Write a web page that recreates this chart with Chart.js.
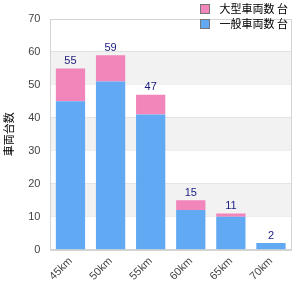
<!DOCTYPE html>
<html>
<head>
<meta charset="utf-8">
<script src="https://cdn.jsdelivr.net/npm/chart.js@4.4.1/dist/chart.umd.min.js"></script>
<style>
  html, body { margin: 0; padding: 0; background: #fff; }
  #wrap { position: relative; width: 300px; height: 300px; }
  #legend { position: absolute; right: 12px; top: 1px; font: 11px "Noto Sans CJK JP", sans-serif; color: #000; }
  #legend div { height: 15px; line-height: 15px; white-space: nowrap; }
  #legend span.box { display: inline-block; width: 8px; height: 8px; border: 1px solid #777; margin-right: 10px; vertical-align: -1px; }
</style>
</head>
<body>
<div id="wrap">
  <canvas id="c" width="300" height="300"></canvas>
  <div id="legend"></div>
</div>
<script>
  var categories = ["45km", "50km", "55km", "60km", "65km", "70km"];
  var lowerValues = [45, 51, 41, 12, 10, 2];
  var upperValues = [10, 8, 6, 3, 1, 0];
  var lowerLabel = "一般車両数 台";
  var upperLabel = "大型車両数 台";
  var yTitle = "車両台数";
  var yTicks = [0, 10, 20, 30, 40, 50, 60, 70];

  var totals = categories.map(function(_, i) { return lowerValues[i] + upperValues[i]; });

  // 交互の背景帯
  var bandPlugin = {
    id: "bands",
    beforeDatasetsDraw: function(chart) {
      var ctx = chart.ctx, area = chart.chartArea, y = chart.scales.y;
      ctx.save();
      ctx.fillStyle = "#f2f2f2";
      for (var v = 10; v < 70; v += 20) {
        var top = y.getPixelForValue(v + 10), bot = y.getPixelForValue(v);
        ctx.fillRect(area.left, top, area.right - area.left, bot - top);
      }
      ctx.restore();
    }
  };

  // 枠線 + 合計ラベル
  var totalPlugin = {
    id: "totals",
    afterDatasetsDraw: function(chart) {
      var ctx = chart.ctx, y = chart.scales.y, x = chart.scales.x, a = chart.chartArea;
      ctx.save();
      ctx.strokeStyle = "#d4d4d4";
      ctx.lineWidth = 1;
      ctx.strokeRect(Math.round(a.left) + 0.5, Math.round(a.top) + 0.5, Math.round(a.right - a.left), Math.round(a.bottom - a.top));
      ctx.font = "11px Arial, 'Liberation Sans', sans-serif";
      ctx.fillStyle = "#1a1a80";
      ctx.textAlign = "center";
      ctx.textBaseline = "bottom";
      totals.forEach(function(t, i) {
        ctx.fillText(String(t), x.getPixelForValue(i), y.getPixelForValue(t) - 2);
      });
      ctx.restore();
    }
  };

  var chart = new Chart(document.getElementById("c"), {
    type: "bar",
    data: {
      labels: categories,
      datasets: [
        { label: lowerLabel, data: lowerValues, backgroundColor: "#62a9f4", barPercentage: 0.73, categoryPercentage: 1 },
        { label: upperLabel, data: upperValues, backgroundColor: "#f285b9", barPercentage: 0.73, categoryPercentage: 1 }
      ]
    },
    options: {
      responsive: false,
      animation: false,
      layout: { padding: { top: 19, right: 9, left: 2, bottom: 12 } },
      plugins: { legend: { display: false }, tooltip: { enabled: false } },
      scales: {
        x: {
          stacked: true,
          grid: { display: false, drawTicks: false },
          border: { color: "#d4d4d4" },
          ticks: { color: "#444", font: { size: 11, family: "Arial, 'Liberation Sans', sans-serif" }, maxRotation: 45, minRotation: 45, padding: 5 }
        },
        y: {
          stacked: true,
          min: 0, max: 70,
          afterBuildTicks: function(axis) { axis.ticks = yTicks.map(function(v) { return { value: v }; }); },
          grid: { color: "#e0e0e0", drawTicks: false },
          border: { color: "#d4d4d4" },
          ticks: { color: "#444", font: { size: 11, family: "Arial, 'Liberation Sans', sans-serif" }, padding: 10 },
          title: { display: true, text: yTitle, color: "#000", font: { size: 11, family: "'Noto Sans CJK JP', sans-serif" }, padding: { top: 0, bottom: 3 } }
        }
      }
    },
    plugins: [bandPlugin, totalPlugin]
  });

  // 凡例 (逆順)
  var legendHtml = "";
  chart.data.datasets.slice().reverse().forEach(function(ds) {
    legendHtml += '<div><span class="box" style="background:' + ds.backgroundColor + '"></span>' + ds.label + '</div>';
  });
  document.getElementById("legend").innerHTML = legendHtml;
</script>
</body>
</html>
